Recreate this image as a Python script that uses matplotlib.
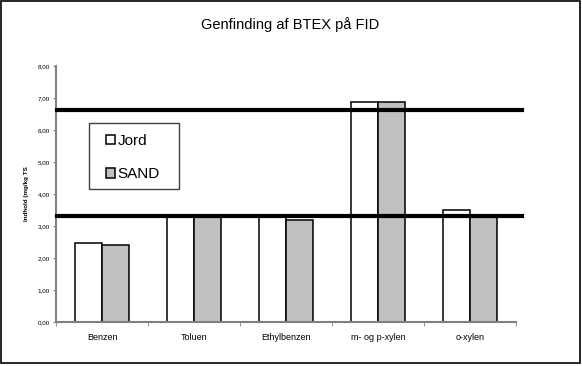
import numpy as np
import matplotlib.pyplot as plt
from matplotlib.patches import Rectangle

plt.rcParams['font.family'] = ['Liberation Sans', 'DejaVu Sans']

categories = ['Benzen', 'Toluen', 'Ethylbenzen', 'm- og p-xylen', 'o-xylen']
jord = [2.46, 3.30, 3.30, 6.86, 3.51]
sand = [2.40, 3.28, 3.19, 6.89, 3.30]
ref_lines = [6.63, 3.30]
yticks = np.arange(0, 8.01, 1.0)

fig = plt.figure(figsize=(5.82, 3.66), dpi=100)
ax = fig.add_axes([56 / 582, 44 / 366, 460 / 582, 256 / 366])

x = np.arange(len(categories))
w = 0.293
ax.bar(x - w / 2, jord, w, color='white', edgecolor='black', linewidth=1.1, label='Jord', zorder=2)
ax.bar(x + w / 2, sand, w, color='#c0c0c0', edgecolor='black', linewidth=1.1, label='SAND', zorder=2)

for v in ref_lines:
    ax.axhline(v, xmin=0.002, xmax=1.013, color='black', linewidth=3, clip_on=False, zorder=3)

ax.set_xlim(-0.5, len(categories) - 0.5)
ax.set_ylim(0, 8)
ax.set_yticks(yticks)
ax.set_yticklabels([f'{v:.2f}'.replace('.', ',') for v in yticks], fontsize=4.5)
ax.set_xticks(x)
ax.set_xticklabels(categories, fontsize=6.5)
ax.set_xticks(np.arange(-0.5, len(categories)), minor=True)
ax.tick_params(axis='x', which='major', length=0, pad=8)
ax.tick_params(axis='x', which='minor', length=3, direction='out', color='#808080')
ax.tick_params(axis='y', length=2.5, direction='out', color='#808080', pad=2)
for s in ['top', 'right']:
    ax.spines[s].set_visible(False)
for s in ['left', 'bottom']:
    ax.spines[s].set_color('#808080')
    ax.spines[s].set_linewidth(1.5)
ax.set_ylabel('Indhold (mg/kg TS', fontsize=4.5, fontweight='bold', labelpad=6)

fig.text(290 / 582, 1 - 25 / 366, 'Genfinding af BTEX på FID', ha='center', va='center', fontsize=10.5)

# legend box drawn separately so the padding can differ per side
leg = ax.legend(loc='upper left', bbox_to_anchor=(106 / 582, 1 - 134 / 366), bbox_transform=fig.transFigure,
                fontsize=11, frameon=False, borderpad=0, labelspacing=1.25,
                handlelength=0.6, handleheight=0.6, handletextpad=0.15, borderaxespad=0)
fig.patches.append(Rectangle((89 / 582, 1 - 189 / 366), 90 / 582, 66 / 366, transform=fig.transFigure,
                             fill=False, edgecolor='#404040', linewidth=1.0))

fig.patches.append(Rectangle((1 / 582, 3 / 366), 579 / 582, 362 / 366, transform=fig.transFigure,
                             fill=False, edgecolor='black', linewidth=1.2))

fig.savefig('out.png', dpi=100)
